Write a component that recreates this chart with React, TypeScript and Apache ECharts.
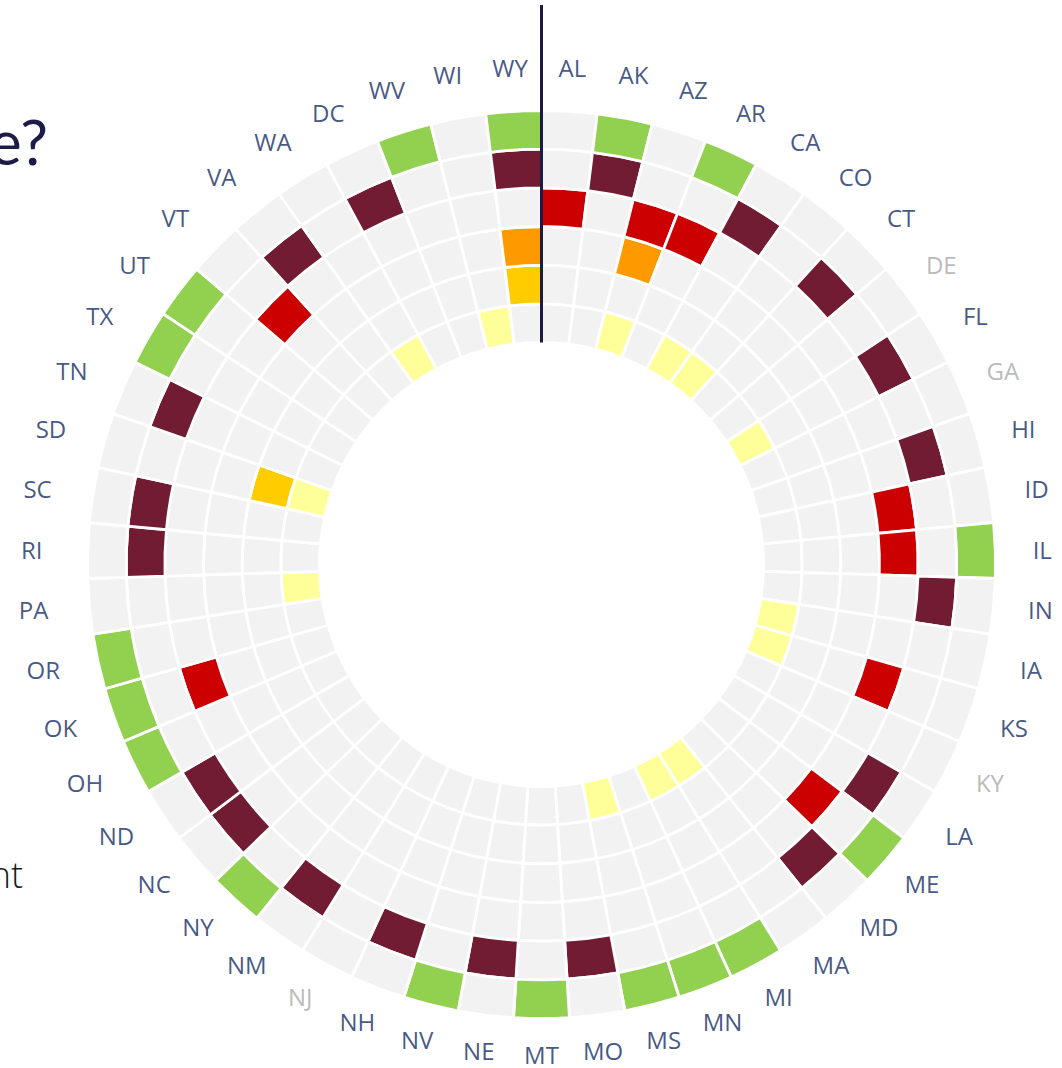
import React, { useEffect, useRef } from 'react';
import * as echarts from 'echarts';

// Categories: states clockwise from the top
const STATES = [
  'AL', 'AK', 'AZ', 'AR', 'CA', 'CO', 'CT', 'DE', 'FL', 'GA', 'HI', 'ID', 'IL',
  'IN', 'IA', 'KS', 'KY', 'LA', 'ME', 'MD', 'MA', 'MI', 'MN', 'MS', 'MO', 'MT',
  'NE', 'NV', 'NH', 'NJ', 'NM', 'NY', 'NC', 'ND', 'OH', 'OK', 'OR', 'PA', 'RI',
  'SC', 'SD', 'TN', 'TX', 'UT', 'VT', 'VA', 'WA', 'DC', 'WV', 'WI', 'WY',
];
const NO_DATA_STATES = ['DE', 'GA', 'KY', 'NJ'];

// Rings, innermost first: which states have the ring filled
const RING_LIGHT_YELLOW = ['AZ', 'CA', 'CO', 'FL', 'IA', 'KS', 'MA', 'MI', 'MS', 'PA', 'SD', 'WA', 'WI'];
const RING_GOLD = ['SD', 'WY'];
const RING_ORANGE = ['AZ', 'WY'];
const RING_RED = ['AL', 'AZ', 'AR', 'ID', 'IL', 'KS', 'ME', 'OK', 'VT'];
const RING_MAROON = ['AK', 'CA', 'CT', 'FL', 'HI', 'IN', 'LA', 'MD', 'MO', 'NE', 'NH', 'NM', 'NC', 'ND', 'RI', 'SC', 'TN', 'VA', 'DC', 'WY'];
const RING_GREEN = ['AK', 'AR', 'IL', 'ME', 'MI', 'MN', 'MS', 'MT', 'NV', 'NY', 'OH', 'OK', 'OR', 'TX', 'UT', 'WV', 'WY'];

const RING_COLORS = ['#ffff99', '#ffcc00', '#ff9900', '#cc0000', '#721c33', '#92d050'];
const RINGS = [RING_LIGHT_YELLOW, RING_GOLD, RING_ORANGE, RING_RED, RING_MAROON, RING_GREEN];
const RING_THICKNESS = 1;

const EMPTY = '#f2f2f2';
const NAVY = '#142d64';
const GREY = '#a8a8a8';

const W = 1062;
const H = 1068;
const CX = 541.5;
const CY = 564.5;
const R_IN = 222;
const R_OUT = 454;
const R_LABEL = 500;
// label ring is slightly elliptical in the reference
const LABEL_RX_RIGHT = 501;
const LABEL_RX_LEFT = 510;
const LABEL_RY_TOP = 498;
const LABEL_RY_BOTTOM = 490;
const LABEL_VAL = (RINGS.length * RING_THICKNESS * (R_LABEL - R_IN)) / (R_OUT - R_IN);

export default function App() {
  const ref = useRef<HTMLDivElement>(null);

  useEffect(() => {
    if (!ref.current) return;
    const chart = echarts.init(ref.current, undefined, { renderer: 'svg' });

    const ringSeries = RINGS.map((members, k) => ({
      type: 'bar',
      coordinateSystem: 'polar',
      stack: 'rings',
      barCategoryGap: '0%',
      silent: true,
      itemStyle: { borderColor: '#ffffff', borderWidth: 2.8 },
      data: STATES.map((s) => ({
        value: RING_THICKNESS,
        itemStyle: { color: members.includes(s) ? RING_COLORS[k] : EMPTY },
      })),
    }));

    const step = (2 * Math.PI) / STATES.length;
    const labelSeries = {
      type: 'scatter',
      coordinateSystem: 'polar',
      symbolSize: 1,
      silent: true,
      itemStyle: { color: 'rgba(0,0,0,0)' },
      label: {
        show: true,
        position: 'inside',
        fontFamily: '"Open Sans", "Noto Sans", sans-serif',
        fontWeight: 500,
        fontSize: 24,
        formatter: (p: any) => p.value[1],
      },
      data: STATES.map((s, i) => {
        const a = (i + 0.5) * step;
        const sn = Math.sin(a);
        const cs = Math.cos(a);
        const rx = sn >= 0 ? LABEL_RX_RIGHT : LABEL_RX_LEFT;
        const ry = cs >= 0 ? LABEL_RY_TOP : LABEL_RY_BOTTOM;
        return {
          value: [LABEL_VAL, s],
          label: {
            color: NO_DATA_STATES.includes(s) ? GREY : NAVY,
            offset: [(rx - R_LABEL) * sn, -(ry - R_LABEL) * cs],
          },
        };
      }),
    };

    chart.setOption({
      animation: false,
      backgroundColor: '#ffffff',
      polar: { center: [CX, CY], radius: [R_IN, R_LABEL] },
      angleAxis: {
        type: 'category',
        data: STATES,
        startAngle: 90,
        clockwise: true,
        boundaryGap: true,
        axisLine: { show: false },
        axisTick: { show: false },
        axisLabel: { show: false },
        splitLine: { show: false },
      },
      radiusAxis: {
        type: 'value',
        min: 0,
        max: LABEL_VAL,
        axisLine: { show: false },
        axisTick: { show: false },
        axisLabel: { show: false },
        splitLine: { show: false },
      },
      series: [...ringSeries, labelSeries],
      graphic: [
        {
          type: 'line',
          z: 100,
          shape: { x1: CX, y1: 5, x2: CX, y2: CY - R_IN },
          style: { stroke: '#1d1b45', lineWidth: 3 },
        },
        {
          type: 'text',
          z: 100,
          x: 48,
          y: 172,
          style: {
            text: 'e?',
            fontSize: 62,
            fontFamily: 'Lato, "Open Sans", sans-serif',
            fill: '#1d1b48',
            align: 'right',
            verticalAlign: 'bottom',
          },
        },
        {
          type: 'text',
          z: 100,
          x: 23,
          y: 892,
          style: {
            text: 'nt',
            fontSize: 36,
            fontFamily: '"Open Sans", sans-serif',
            fontWeight: 300,
            fill: '#1a1a1a',
            align: 'right',
            verticalAlign: 'bottom',
          },
        },
      ],
    });

    return () => chart.dispose();
  }, []);

  return (
    <div
      ref={ref}
      style={{ position: 'fixed', left: 0, top: 0, width: W, height: H, background: '#ffffff' }}
    />
  );
}
